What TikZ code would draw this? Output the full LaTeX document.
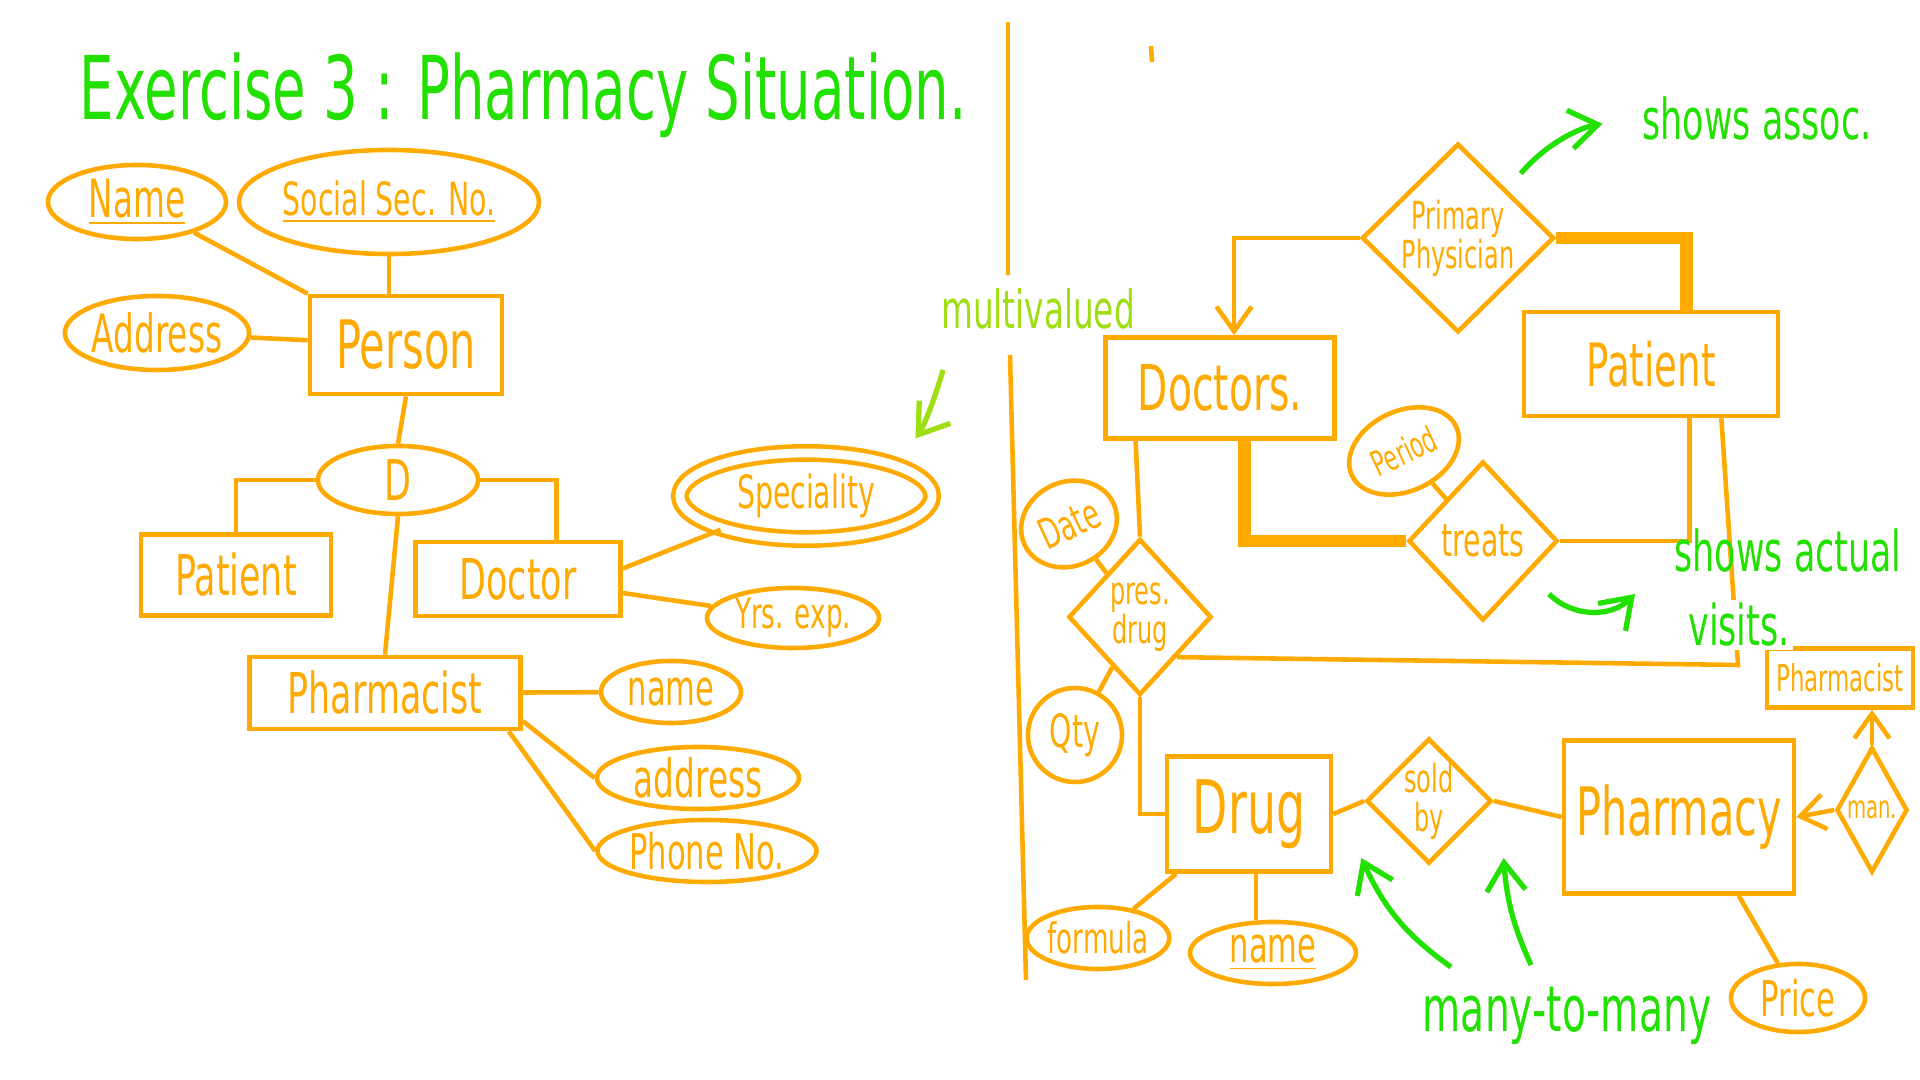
\documentclass[tikz,border=0pt]{standalone}
\usepackage{fontspec}
\newfontfamily\handfont{DejaVu Sans}[FakeStretch=0.62]
\usetikzlibrary{shapes.geometric, positioning, arrows.meta}

\definecolor{penorange}{RGB}{255,170,0}
\definecolor{pengreen}{RGB}{34,224,0}
\definecolor{penlime}{RGB}{160,222,20}

\tikzset{
  lbl/.style={text=penorange, font=\handfont\fontsize{#1}{#1}\selectfont},
  note/.style={text=pengreen, font=\handfont\fontsize{#1}{#1}\selectfont},
  entity/.style={draw=penorange, line width=1.3pt, rectangle, inner sep=0pt},
  attr/.style={draw=penorange, line width=1.3pt, ellipse, inner sep=0pt},
  rel/.style={draw=penorange, line width=1.3pt, diamond, inner sep=0pt, align=center},
  link/.style={penorange, line width=1.3pt},
  heavy/.style={penorange, line width=3.6pt},
  tip/.style={-{Straight Barb[length=7pt,width=10pt]}},
  greenarrow/.style={pengreen, line width=1.5pt, -{Straight Barb[length=8pt,width=11pt]}},
}

\begin{document}
\begin{tikzpicture}[x=0.01cm, y=-0.01cm]
  \useasboundingbox (0,0) rectangle (1920,1080);

  % Title
  \node[note=25] (title) at (523,95) {Exercise 3 : Pharmacy Situation.};

  % Divider
  \draw[link] (1008,22) -- (1008,275);
  \draw[link] (1010,355) -- (1026,980);
  \draw[link] (1151,46) -- (1152,62);

  % Left: generalisation
  \node[entity, lbl=19, minimum width=1.92cm, minimum height=0.98cm] (person) at (406,345) {Person};
  \node[attr, lbl=15, minimum width=1.78cm, minimum height=0.74cm] (nameA) at (137,202) {\underline{Name}};
  \node[attr, lbl=13, minimum width=2.8cm, minimum height=1.04cm] (ssn) at (389,202) {\underline{Social Sec. No.}};
  \node[attr, lbl=15, minimum width=1.72cm, minimum height=0.74cm] (addr) at (157,333) {Address};
  \node[attr, lbl=16, minimum width=1.6cm, minimum height=0.68cm] (disj) at (398,480) {D};
  \node[entity, lbl=16, minimum width=1.9cm, minimum height=0.81cm] (patientL) at (236,575) {Patient};
  \node[entity, lbl=16, minimum width=2.05cm, minimum height=0.74cm] (doctorL) at (518,579) {Doctor};
  \node[entity, lbl=16, minimum width=2.71cm, minimum height=0.72cm] (pharmacist) at (385,693) {Pharmacist};
  \node[attr, lbl=13, double, double distance=2.5pt, minimum width=2.52cm, minimum height=0.86cm] (spec) at (806,496) {Speciality};
  \node[attr, lbl=12, minimum width=1.72cm, minimum height=0.6cm] (yrs) at (793,618) {Yrs. exp.};
  \node[attr, lbl=14, minimum width=1.4cm, minimum height=0.62cm] (nameP) at (671,692) {name};
  \node[attr, lbl=15, minimum width=2.02cm, minimum height=0.62cm] (addrP) at (698,778) {address};
  \node[attr, lbl=14, minimum width=1.96cm, minimum height=0.62cm] (phone) at (707,851) {Phone No.};

  \draw[link] (nameA) -- (person.north west);
  \draw[link] (ssn.south) -- (ssn.south |- person.north);
  \draw[link] (addr) -- (person);
  \draw[link] (person.south) -- (disj.north);
  \draw[link] (disj.west) -| (patientL.north);
  \draw[link] (disj.east) -| ([xshift=11pt]doctorL.north);
  \draw[link] (disj.south) -- (pharmacist.north);
  \draw[link] ([yshift=3pt]doctorL.east) -- (spec);
  \draw[link] ([yshift=-4pt]doctorL.east) -- (yrs);
  \draw[link] (pharmacist) -- (nameP);
  \draw[link] ([yshift=-8pt]pharmacist.east) -- (addrP.west);
  \draw[link] ([xshift=-4pt]pharmacist.south east) -- (phone.west);

  \node[text=penlime, font=\handfont\fontsize{15}{15}\selectfont] (multi) at (1038,309) {multivalued};
  \draw[penlime, line width=1.5pt, -{Straight Barb[length=8pt,width=11pt]}, shorten >=9pt]
    ([xshift=-27pt,yshift=-8pt]multi.south) to[bend left=10] (spec.north east);

  % Right: relationships
  \node[rel, lbl=11, minimum width=1.92cm, minimum height=1.71cm] (pp) at (1458,238) {Primary\\Physician};
  \node[entity, lbl=18, minimum width=2.29cm, minimum height=1.01cm] (doctors) at (1220,388) {Doctors.};
  \node[entity, lbl=17, minimum width=2.54cm, minimum height=1.04cm] (patientR) at (1651,364) {Patient};
  \node[rel, lbl=13, minimum width=1.49cm, minimum height=1.59cm] (treats) at (1483,541) {treats};
  \node[attr, lbl=10, rotate=25, minimum width=1.15cm, minimum height=0.8cm] (period) at (1404,451) {Period};
  \node[attr, lbl=12, rotate=25, minimum width=0.98cm, minimum height=0.84cm] (date) at (1069,524) {Date};
  \node[rel, lbl=11, minimum width=1.43cm, minimum height=1.56cm] (presdrug) at (1140,617) {pres.\\drug};
  \node[attr, lbl=13, minimum width=0.94cm, minimum height=0.94cm] (qty) at (1075,735) {Qty};
  \node[entity, lbl=21, minimum width=1.64cm, minimum height=1.15cm] (drug) at (1249,814) {Drug};
  \node[attr, lbl=12, minimum width=1.34cm, minimum height=0.62cm] (formula) at (1098,938) {formula};
  \node[attr, lbl=14, minimum width=1.66cm, minimum height=0.62cm] (nameD) at (1273,953) {\underline{name}};
  \node[rel, lbl=11, minimum width=0.96cm, minimum height=1.2cm] (soldby) at (1429,801) {sold\\by};
  \node[entity, lbl=19, minimum width=2.3cm, minimum height=1.53cm] (pharmacy) at (1679,817) {Pharmacy};
  \node[entity, lbl=10.5, minimum width=1.46cm, minimum height=0.59cm] (pharmist) at (1840,678) {Pharmacist};
  \node[rel, lbl=9, minimum width=0.71cm, minimum height=1.25cm] (man) at (1872,810) {man.};
  \node[attr, lbl=14, minimum width=1.34cm, minimum height=0.68cm] (price) at (1798,998) {Price};

  \draw[link, tip] (pp.west) -| ([xshift=4pt]doctors.north);
  \draw[heavy] (pp.east) -| ([xshift=10pt]patientR.north);
  \draw[heavy] ([xshift=7pt]doctors.south) |- (treats.west);
  \draw[link] (treats.east) -| ([xshift=11pt]patientR.south);
  \draw[link] (period) -- (treats);
  \coordinate (visitcorner) at (1738,665);
  \draw[link] ([xshift=20pt]patientR.south) -- (visitcorner) -- (presdrug.south east);
  \draw[link] ([xshift=-24pt]doctors.south) -- (presdrug.north);
  \draw[link] (date) -- (presdrug);
  \draw[link] (qty) -- (presdrug);
  \draw[link] (presdrug.south) |- (drug.west);
  \draw[link] (drug) -- (formula);
  \draw[link] ([xshift=2pt]drug.south) -- ([xshift=2pt]drug.south |- nameD.north);
  \draw[link] (drug.east) -- (soldby.west);
  \draw[link] (soldby.east) -- (pharmacy.west);
  \draw[link, tip] (man.west) -- (pharmacy.east);
  \draw[link, tip] (man.north) -- (man.north |- pharmist.south);
  \draw[link] ([xshift=17pt]pharmacy.south) -- (price);

  % Notes
  \node[note=16] (assoc) at (1757,119) {shows assoc.};
  \draw[greenarrow, shorten <=6pt, shorten >=8pt] (pp.north east) to[bend left=20] (assoc.west);
  \node[note=16] (actual) at (1788,551) {shows actual};
  \node[note=16, fill=white, inner sep=1pt] (visits) at (1739,625) {visits.};
  \coordinate (visitstail) at (1549,594);
  \coordinate (visitshead) at (1635,594);
  \draw[greenarrow] (visitstail) to[bend right=45] (visitshead);
  \node[note=18] (many) at (1567,1016) {many-to-many};
  \coordinate (manytail1) at (1451,967);
  \coordinate (manytail2) at (1531,965);
  \draw[greenarrow] (manytail1) to[bend left=15] ([xshift=-10pt,yshift=-7pt]soldby.south west);
  \draw[greenarrow] (manytail2) to[bend left=10] ([xshift=12pt,yshift=-7pt]soldby.south east);
\end{tikzpicture}
\end{document}
